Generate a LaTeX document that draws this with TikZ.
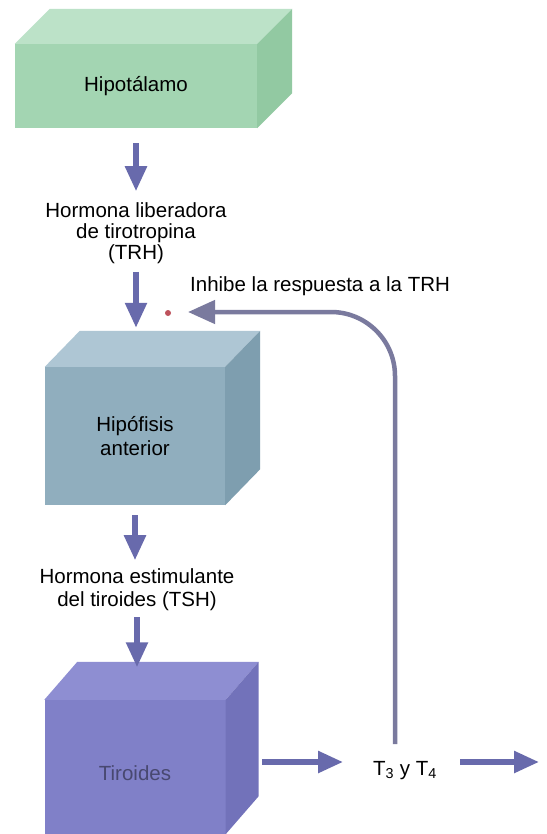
\documentclass[tikz,border=0pt]{standalone}
\usepackage{fontspec}
\setmainfont{Liberation Sans}
\usetikzlibrary{arrows.meta}
\definecolor{arr}{RGB}{104,106,172}
\definecolor{fbc}{RGB}{122,122,158}
\definecolor{dotc}{RGB}{190,82,92}
\definecolor{hypF}{RGB}{163,213,178}
\definecolor{hypT}{RGB}{188,226,200}
\definecolor{hypR}{RGB}{146,201,162}
\definecolor{hipF}{RGB}{144,174,190}
\definecolor{hipT}{RGB}{174,198,212}
\definecolor{hipR}{RGB}{126,158,175}
\definecolor{tirF}{RGB}{128,128,200}
\definecolor{tirT}{RGB}{142,142,210}
\definecolor{tirR}{RGB}{114,114,186}
\definecolor{tirtext}{RGB}{72,72,112}
\tikzset{
  box/.style={inner sep=0pt, align=center, font=\fontsize{20.5}{24}\selectfont},
  lbl/.style={inner sep=0pt, align=center, font=\fontsize{20.5}{21}\selectfont},
  flow/.style={draw=arr, line width=5.5pt, -{Triangle[length=25pt,width=21pt]}},
  fb/.style={draw=fbc, line width=4.5pt, rounded corners=64pt, -{Triangle[length=27pt,width=23pt]}},
  redot/.style={circle, fill=dotc, inner sep=0pt, minimum size=6pt}
}
\begin{document}
\begin{tikzpicture}[x=1pt,y=-1pt]
\useasboundingbox (0,0) rectangle (546,834);
\fill[white] (0,0) rectangle (546,834);

% Hipotalamo
\node[box, fill=hypF, minimum width=242pt, minimum height=84pt] (hyp) at (136,86) {Hipotálamo};
\fill[hypT] (hyp.north west) -- ++(35,-35) -- ([shift={(35pt,35pt)}]hyp.north east) -- (hyp.north east) -- cycle;
\fill[hypR] (hyp.north east) -- ++(35,-35) -- ([shift={(35pt,35pt)}]hyp.south east) -- (hyp.south east) -- cycle;

% Hipofisis
\node[box, fill=hipF, minimum width=180pt, minimum height=138pt] (hip) at (135,436) {Hipófisis\\anterior};
\fill[hipT] (hip.north west) -- ++(35,-36) -- ([shift={(35pt,36pt)}]hip.north east) -- (hip.north east) -- cycle;
\fill[hipR] (hip.north east) -- ++(35,-36) -- ([shift={(35pt,36pt)}]hip.south east) -- (hip.south east) -- cycle;

% Tiroides
\node[box, fill=tirF, minimum width=181pt, minimum height=134pt] (tir) at (135,767) {};
\fill[tirT] (tir.north west) -- ++(33,-38) -- ([shift={(33pt,38pt)}]tir.north east) -- (tir.north east) -- cycle;
\fill[tirR] (tir.north east) -- ++(33,-38) -- ([shift={(33pt,38pt)}]tir.south east) -- (tir.south east) -- cycle;
\node[box, text=tirtext] (tirtxt) at (135,773) {Tiroides};

% labels
\node[lbl] (trh) at (136,233) {Hormona liberadora\\de tirotropina\\(TRH)};
\node[lbl, font=\fontsize{20.5}{23}\selectfont] (tsh) at (137,590) {Hormona estimulante\\del tiroides (TSH)};
\node[lbl, anchor=base west] (inhtxt) at (190,291) {Inhibe la respuesta a la TRH};
\node[lbl, anchor=base] (t34) at (405,775) {T\textsubscript{3} y T\textsubscript{4}};
\node[redot] (dot) at (168,313) {};

% vertical flow arrows
\draw[flow] (hyp.south) ++(0,15) -- ++(0,48);
\draw[flow] (trh.south) ++(0,8) -- ++(0,56);
\draw[flow] (hip.south) ++(0,10) -- ++(0,45);
\draw[flow] (tsh.south) ++(0,6) -- ++(0,50);

% horizontal flow arrows
\coordinate (out1) at (262,762);
\coordinate (in1) at (343,762);
\coordinate (out2) at (460,762);
\coordinate (in2) at (539,762);
\draw[flow] (out1) -- (in1);
\draw[flow] (out2) -- (in2);

% feedback
\coordinate (fbs) at (395,744);
\coordinate (fbt) at (188,312);
\draw[fb] (fbs) |- (fbt);
\end{tikzpicture}
\end{document}
